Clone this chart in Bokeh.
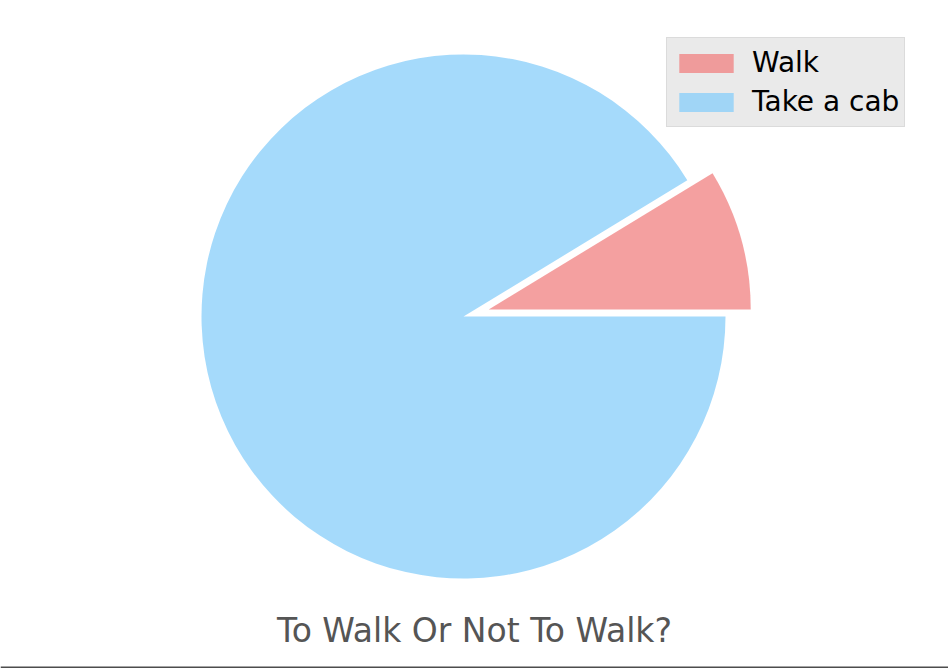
import numpy as np
from bokeh.plotting import figure
from bokeh.models import ColumnDataSource, Legend, LegendItem, Label, Span, Range1d
from bokeh.embed import file_html
from bokeh.resources import INLINE

# Data
labels = ["Walk", "Take a cab"]
values = [8.7, 91.3]
colors = ["lightcoral", "lightskyblue"]
explode = [0.1, 0.0]
title_text = "To Walk Or Not To Walk?"

W, H = 948, 668
cx_px, cy_px, r_px = 463, 316, 262  # pie placement in pixels

vals = np.array(values, dtype=float)
frac = vals / vals.sum()
ends = np.cumsum(frac) * 2 * np.pi
starts = ends - frac * 2 * np.pi
mids = (starts + ends) / 2
xs = np.array(explode) * np.cos(mids)
ys = np.array(explode) * np.sin(mids)

src = ColumnDataSource(dict(x=xs, y=ys, start=starts, end=ends, color=colors, label=labels))

p = figure(width=W, height=H, output_backend="svg", toolbar_location=None,
           x_range=Range1d(-cx_px / r_px, (W - cx_px) / r_px),
           y_range=Range1d(-(H - cy_px) / r_px, cy_px / r_px),
           min_border=0, x_axis_location=None, y_axis_location=None)
p.grid.visible = False
p.outline_line_color = None
p.background_fill_color = "white"
p.border_fill_color = "white"

r = p.wedge(x="x", y="y", radius=1.0, start_angle="start", end_angle="end",
            fill_color="color", fill_alpha=0.75, line_color=None, source=src)

legend = Legend(items=[LegendItem(label=labels[i], renderers=[r], index=i) for i in range(len(labels))],
                location=(666, H - 127), orientation="vertical",
                glyph_width=68, glyph_height=24, label_standoff=12, spacing=0,
                padding=5, margin=0, label_text_font="DejaVu Sans", label_text_font_size="28px",
                label_text_color="black", label_height=39,
                background_fill_color="#eaeaea", background_fill_alpha=1.0,
                border_line_color="#cccccc", border_line_width=1)
p.add_layout(legend)

title = Label(x=(474 - cx_px) / r_px, y=-(630 - cy_px) / r_px, text=title_text,
              text_align="center", text_baseline="alphabetic",
              text_font="DejaVu Sans", text_font_size="33px", text_color="#555555")
p.add_layout(title)

bottom = Span(location=-(667 - cy_px) / r_px, dimension="width", line_color="#4d4d4d", line_width=2)
p.add_layout(bottom)

open("out.html", "w").write(file_html(p, INLINE))
